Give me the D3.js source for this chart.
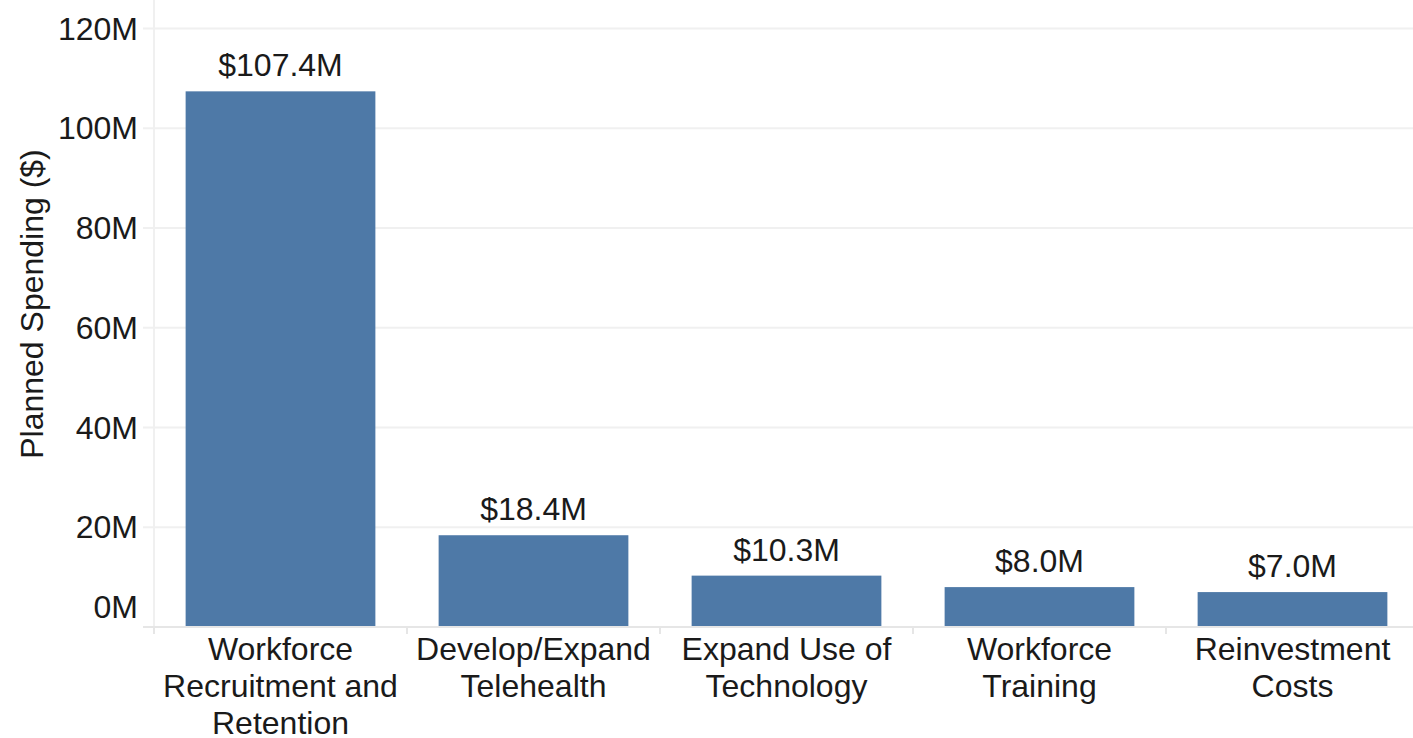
<!DOCTYPE html>
<html>
<head>
<meta charset="utf-8">
<script src="https://cdn.jsdelivr.net/npm/d3@7"></script>
<style>
  html, body { margin: 0; padding: 0; background: #fff; }
  svg { display: block; font-family: "Liberation Sans", Arial, Helvetica, sans-serif; }
</style>
</head>
<body>
<svg id="chart" width="1413" height="738"></svg>
<script>
// Planned spending by category (millions of dollars)
const categories = [
  "Workforce Recruitment and Retention",
  "Develop/Expand Telehealth",
  "Expand Use of Technology",
  "Workforce Training",
  "Reinvestment Costs"
];
const categoryLines = [
  ["Workforce", "Recruitment and", "Retention"],
  ["Develop/Expand", "Telehealth"],
  ["Expand Use of", "Technology"],
  ["Workforce", "Training"],
  ["Reinvestment", "Costs"]
];
const spending = [107.4, 18.4, 10.3, 8.0, 7.0];
const yTicks = [0, 20, 40, 60, 80, 100, 120];
const yTickLabels = ["0M", "20M", "40M", "60M", "80M", "100M", "120M"];

const svg = d3.select("#chart");
const plotLeft = 154, plotRight = 1419, plotTop = 28.5, plotBottom = 627;
const fontSize = 32;
const textColor = "#1a1a1a";

const x = d3.scaleBand()
  .domain(categories)
  .range([plotLeft, plotRight])
  .paddingInner(0.25)
  .paddingOuter(0.125);

const y = d3.scaleLinear()
  .domain([0, 120])
  .range([plotBottom, plotTop]);

// Horizontal gridlines
svg.append("g")
  .selectAll("line")
  .data(yTicks.slice(1))
  .join("line")
  .attr("x1", plotLeft - 11)
  .attr("x2", 1413)
  .attr("y1", d => y(d))
  .attr("y2", d => y(d))
  .attr("stroke", "#f0f0f0")
  .attr("stroke-width", 2);

// Vertical axis line
svg.append("line")
  .attr("x1", plotLeft).attr("x2", plotLeft)
  .attr("y1", 0).attr("y2", plotBottom + 7)
  .attr("stroke", "#f0f0f0")
  .attr("stroke-width", 2);

// Y tick labels (the zero label sits above the baseline)
svg.append("g")
  .selectAll("text")
  .data(yTicks)
  .join("text")
  .attr("x", plotLeft - 16)
  .attr("y", d => d === 0 ? y(d) - 20 : y(d))
  .attr("dy", "0.35em")
  .attr("text-anchor", "end")
  .attr("font-size", fontSize)
  .attr("fill", textColor)
  .text((d, i) => yTickLabels[i]);

// Y axis title
svg.append("text")
  .attr("transform", "translate(43, 304) rotate(-90)")
  .attr("text-anchor", "middle")
  .attr("font-size", fontSize)
  .attr("fill", textColor)
  .text("Planned Spending ($)");

// Bars
svg.append("g")
  .selectAll("rect")
  .data(spending)
  .join("rect")
  .attr("x", (d, i) => x(categories[i]))
  .attr("y", d => y(d))
  .attr("width", x.bandwidth())
  .attr("height", d => y(0) - y(d))
  .attr("fill", "#4e79a7");

// Baseline and category dividers
svg.append("line")
  .attr("x1", plotLeft - 11).attr("x2", 1413)
  .attr("y1", plotBottom).attr("y2", plotBottom)
  .attr("stroke", "#e6e6e6")
  .attr("stroke-width", 2);

svg.append("g")
  .selectAll("line")
  .data(categories)
  .join("line")
  .attr("x1", d => x(d) - x.step() * x.paddingOuter())
  .attr("x2", d => x(d) - x.step() * x.paddingOuter())
  .attr("y1", plotBottom)
  .attr("y2", plotBottom + 7)
  .attr("stroke", "#e6e6e6")
  .attr("stroke-width", 2);

// Value labels
svg.append("g")
  .selectAll("text")
  .data(spending)
  .join("text")
  .attr("x", (d, i) => x(categories[i]) + x.bandwidth() / 2)
  .attr("y", d => y(d) - 15)
  .attr("text-anchor", "middle")
  .attr("font-size", fontSize)
  .attr("fill", textColor)
  .text(d => "$" + d.toFixed(1) + "M");

// Category labels
const cat = svg.append("g")
  .selectAll("text")
  .data(categories)
  .join("text")
  .attr("x", d => x(d) + x.bandwidth() / 2)
  .attr("y", 660)
  .attr("text-anchor", "middle")
  .attr("font-size", fontSize)
  .attr("fill", textColor);

cat.selectAll("tspan")
  .data((d, i) => categoryLines[i])
  .join("tspan")
  .attr("x", function () { return d3.select(this.parentNode).attr("x"); })
  .attr("dy", (d, i) => i === 0 ? 0 : 37)
  .text(d => d);
</script>
</body>
</html>
